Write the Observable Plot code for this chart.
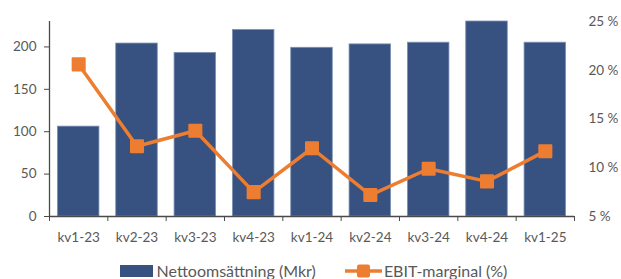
<!DOCTYPE html>
<html>
<head>
<meta charset="utf-8">
<script src="https://cdn.jsdelivr.net/npm/d3@7"></script>
<script src="https://cdn.jsdelivr.net/npm/@observablehq/plot@0.6"></script>
<style>
  html, body { margin: 0; padding: 0; background: #fff; width: 621px; height: 279px; overflow: hidden; }
  #chart svg { display: block; }
  #legend { position: absolute; left: 0; top: 261px; width: 621px; display: flex; justify-content: center; align-items: center;
    font-family: Lato, "Open Sans", sans-serif; font-size: 16px; color: #595959; padding-left: 6px; box-sizing: border-box; }
  .item { display: flex; align-items: center; }
  .sw { width: 33px; height: 12px; margin-right: 4px; }
</style>
</head>
<body>
<div id="chart"></div>
<div id="legend"></div>
<script>
const quarters = ["kv1-23","kv2-23","kv3-23","kv4-23","kv1-24","kv2-24","kv3-24","kv4-24","kv1-25"];
const netSales = [106, 204, 193, 220, 199, 203, 205, 230, 205];
const ebitMargin = [20.6, 12.2, 13.8, 7.5, 12.0, 7.2, 9.9, 8.6, 11.7];
const leftTicks = [0, 50, 100, 150, 200];
const rightTicks = [5, 10, 15, 20, 25];
const leftMax = 230;
const rightMin = 5, rightMax = 25;

const barColor = "#375280";
const lineColor = "#ED7D31";
const textColor = "#595959";

const toLeft = p => (p - rightMin) / (rightMax - rightMin) * leftMax;
const fromLeft = v => v / leftMax * (rightMax - rightMin) + rightMin;

const data = quarters.map((q, i) => ({q, i, sales: netSales[i], ebit: ebitMargin[i], ebitL: toLeft(ebitMargin[i])}));
const bounds = d3.range(quarters.length + 1);
const centers = quarters.map((q, i) => i + 0.5);

const chart = Plot.plot({
  width: 621,
  height: 250,
  marginLeft: 49,
  marginRight: 47,
  marginTop: 21,
  marginBottom: 34,
  style: {fontFamily: "Lato, 'Open Sans', sans-serif", fontSize: "13.5px", color: textColor, background: "#fff"},
  x: {type: "linear", domain: [0, quarters.length]},
  y: {domain: [0, leftMax]},
  marks: [
    Plot.rectY(data, {x1: "i", x2: d => d.i + 1, y: "sales", fill: barColor, stroke: "#7d92b4", strokeWidth: 0.8, insetLeft: 8.4, insetRight: 8.4}),
    Plot.ruleY([0], {stroke: "#4a4a4a", strokeWidth: 1.3}),
    Plot.ruleX([0], {y1: 0, y2: leftMax, stroke: "#4a4a4a", strokeWidth: 1.3}),
    Plot.axisY({ticks: leftTicks, tickSize: 5, tickPadding: 8, anchor: "left", label: null, stroke: "#4a4a4a"}),
    Plot.axisY({ticks: rightTicks.map(toLeft), tickFormat: v => `${Math.round(fromLeft(v))} %`, tickSize: 0, tickPadding: 14, anchor: "right", label: null}),
    Plot.axisX({ticks: bounds, tickFormat: () => "", tickSize: 5, label: null, stroke: "#4a4a4a"}),
    Plot.axisX({ticks: centers, tickFormat: d => quarters[Math.floor(d)], tickSize: 0, tickPadding: 16, label: null}),
    Plot.line(data, {x: d => d.i + 0.5, y: "ebitL", stroke: lineColor, strokeWidth: 3.5}),
    Plot.dot(data, {x: d => d.i + 0.5, y: "ebitL", symbol: "square", r: 6.8, fill: lineColor, stroke: lineColor, strokeWidth: 2, strokeLinejoin: "round"})
  ]
});
document.getElementById("chart").append(chart);

const legendItems = [
  {label: "Nettoomsättning (Mkr)", kind: "bar"},
  {label: "EBIT-marginal (%)", kind: "line"}
];
const legend = document.getElementById("legend");
legendItems.forEach((it, k) => {
  const div = document.createElement("div");
  div.className = "item";
  if (k > 0) div.style.marginLeft = "29px";
  if (it.kind === "bar") {
    const sw = document.createElement("div");
    sw.className = "sw";
    sw.style.background = barColor;
    div.append(sw);
  } else {
    const ns = "http://www.w3.org/2000/svg";
    const s = document.createElementNS(ns, "svg");
    s.setAttribute("width", 37); s.setAttribute("height", 16);
    s.style.marginRight = "2px";
    const l = document.createElementNS(ns, "line");
    l.setAttribute("x1", 0); l.setAttribute("x2", 37); l.setAttribute("y1", 8); l.setAttribute("y2", 8);
    l.setAttribute("stroke", lineColor); l.setAttribute("stroke-width", 3.5);
    const r = document.createElementNS(ns, "rect");
    r.setAttribute("x", 12); r.setAttribute("y", 1.5); r.setAttribute("width", 13); r.setAttribute("height", 13);
    r.setAttribute("rx", 2); r.setAttribute("fill", lineColor);
    s.append(l, r);
    div.append(s);
  }
  const t = document.createElement("span");
  t.textContent = it.label;
  div.append(t);
  legend.append(div);
});
</script>
</body>
</html>
